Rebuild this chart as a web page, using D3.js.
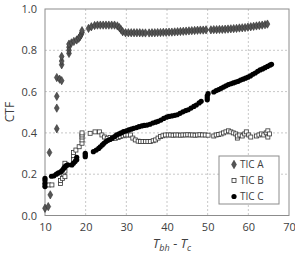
<!DOCTYPE html>
<html>
  <head>
    <script src="https://d3js.org/d3.v7.min.js"></script>
    <style>
      body { margin: 0; background-color: white; }
      text { font-family: 'Open Sans', sans-serif; fill: #404040; }
    </style>
  </head>
  <body>
    <svg id="canvas" width="295" height="253"></svg>
    <script>
      const xTicks = [10, 20, 30, 40, 50, 60, 70]
      const yTicks = [0.0, 0.2, 0.4, 0.6, 0.8, 1.0]

      // TIC A (grey diamonds)
      const ticAx = [10, 10.8, 11.3, 11.1, 12.9, 12.9, 12.9, 12.9, 13.6, 14.1, 14.1, 14.1, 14.1,
        15.9, 15.9, 15.9, 15.9, 16.5, 17.1, 17.8, 18.3, 18.6, 18.9, 19.1, 19.1,
        20.7, 21.4, 22.2, 22.9, 23.6, 24.3, 25.0, 25.7, 26.4, 27.1, 27.8, 28.3, 28.7, 29.1,
        29.8, 30.5, 31.2, 31.9, 32.6, 33.3, 34.0, 34.7,
        35.6, 36.3, 37.0, 37.7, 38.4, 39.1, 39.8, 40.5, 41.2, 41.9, 42.6, 43.3, 44.0, 44.7,
        45.4, 46.1, 46.8, 47.5, 48.2, 48.9, 49.6,
        50.8, 51.5, 52.2, 52.9, 53.6, 54.3, 55.0, 55.7, 56.4, 57.1, 57.8, 58.5, 59.2, 59.9,
        60.6, 61.3, 62.0, 62.7, 63.4, 64.1, 64.7]
      const ticAy = [0.035, 0.043, 0.10, 0.305, 0.42, 0.52, 0.577, 0.668, 0.66, 0.653, 0.73, 0.748, 0.77,
        0.785, 0.80, 0.815, 0.83, 0.836, 0.843, 0.85, 0.858, 0.866, 0.876, 0.886, 0.895,
        0.906, 0.914, 0.92, 0.922, 0.922, 0.922, 0.922, 0.922, 0.922, 0.922, 0.918, 0.91, 0.9, 0.89,
        0.885, 0.885, 0.885, 0.885, 0.885, 0.885, 0.884, 0.884,
        0.884, 0.885, 0.885, 0.886, 0.886, 0.887, 0.887, 0.888, 0.888, 0.889, 0.89, 0.891, 0.892, 0.893,
        0.894, 0.895, 0.896, 0.897, 0.898, 0.898, 0.899,
        0.899, 0.9, 0.9, 0.901, 0.901, 0.902, 0.903, 0.904, 0.905, 0.906, 0.908, 0.909, 0.91, 0.912,
        0.914, 0.916, 0.918, 0.92, 0.922, 0.924, 0.927]

      // TIC B (open squares)
      const ticBx = [10, 10.9, 11.7, 13.8, 13.8, 14.3, 14.5, 14.9, 14.9, 14.9, 14.9,
        17, 17, 17, 17.6, 18.4, 19.1, 19.1, 19.1, 19.1, 19.1,
        21.1, 22.3, 23.4, 24.0, 24.6, 25.3, 26.0, 26.6, 27.3, 28.0, 28.5, 29.2, 29.8, 30.4, 31.0,
        31.6, 32.2, 32.9, 33.5, 34.1, 34.7, 35.3, 35.9, 36.6, 37.2, 37.8, 38.4, 39.0, 39.6,
        40.3, 40.9, 41.5, 42.1, 42.7, 43.3, 43.9, 44.5, 45.1, 45.7, 46.3, 46.9, 47.5, 48.1, 48.7, 49.4, 50.1,
        51.5, 52.1, 52.7, 53.3, 53.9, 54.5, 55.1, 55.7, 56.3, 56.9, 57.3, 57.3, 57.9, 58.5, 59.1, 59.5, 60.1, 60.6,
        62.0, 62.6, 63.2, 63.8, 64.4, 64.8, 64.8, 65.2]
      const ticBy = [0.148, 0.148, 0.148, 0.155, 0.17, 0.18, 0.2, 0.188, 0.215, 0.236, 0.253,
        0.27, 0.29, 0.305, 0.317, 0.333, 0.35, 0.366, 0.38, 0.39, 0.40,
        0.398, 0.405, 0.405, 0.39, 0.38, 0.374, 0.378, 0.374, 0.374, 0.378, 0.382, 0.386, 0.39, 0.39, 0.39,
        0.375, 0.366, 0.36, 0.358, 0.358, 0.358, 0.358, 0.358, 0.362, 0.366, 0.375, 0.382, 0.386, 0.39,
        0.39, 0.39, 0.389, 0.39, 0.39, 0.389, 0.39, 0.39, 0.391, 0.39, 0.39, 0.389, 0.39, 0.391, 0.39, 0.39, 0.389,
        0.385, 0.39, 0.392, 0.395, 0.40, 0.405, 0.41, 0.405, 0.40, 0.395, 0.375, 0.385, 0.39, 0.385, 0.395, 0.405, 0.39, 0.38,
        0.385, 0.39, 0.395, 0.39, 0.40, 0.41, 0.38, 0.395]

      // TIC C (black circles)
      const ticCx = [10, 10, 10, 10, 11.6, 12.2, 12.8, 13.3, 13.9, 14.3, 14.6, 14.9, 15.2, 15.6,
        16.6, 17.0, 17.4, 17.8, 17.8, 19.9, 19.9, 19.9,
        21.9, 22.6, 23.2, 23.6, 24.1, 24.5, 25.0, 25.5, 26.0, 26.5, 27.1, 27.6, 28.2, 28.7, 29.3, 30.0,
        30.6, 31.2, 31.8, 32.5, 33.1, 33.8, 34.4, 35.1, 35.8, 36.5, 37.2, 37.8, 38.5, 39.2, 39.9,
        40.5, 41.2, 41.9, 42.5, 43.2, 43.9, 44.6, 45.2, 45.9, 46.6, 47.2, 47.9, 48.4,
        49.9, 49.9, 49.9, 50.1, 51.5, 52.1, 52.7, 53.3, 53.9, 54.5, 55.1, 55.7, 56.3, 56.9, 57.5,
        58.1, 58.7, 59.3, 59.9, 60.5, 61.1, 61.7, 62.3, 62.9, 63.5, 64.1, 64.7, 65.3, 65.7]
      const ticCy = [0.14, 0.155, 0.17, 0.18, 0.19, 0.192, 0.2, 0.206, 0.212, 0.22, 0.228, 0.236, 0.242, 0.245,
        0.245, 0.253, 0.262, 0.27, 0.282, 0.285, 0.293, 0.301,
        0.309, 0.317, 0.325, 0.333, 0.342, 0.35, 0.358, 0.364, 0.368, 0.374, 0.382, 0.39, 0.395, 0.40, 0.406, 0.41,
        0.415, 0.418, 0.422, 0.426, 0.43, 0.434, 0.436, 0.438, 0.442, 0.448, 0.452, 0.456, 0.462, 0.47, 0.476,
        0.48, 0.482, 0.485, 0.488, 0.495, 0.502, 0.508, 0.512, 0.52, 0.528, 0.535, 0.545, 0.553,
        0.56, 0.57, 0.58, 0.59, 0.598, 0.605, 0.61, 0.616, 0.622, 0.628, 0.634, 0.638, 0.642, 0.646, 0.65,
        0.656, 0.66, 0.665, 0.67, 0.676, 0.684, 0.69, 0.698, 0.705, 0.71, 0.716, 0.722, 0.728, 0.732]

      const seriesNames = ['TIC A', 'TIC B', 'TIC C']

      const margin = { top: 9, right: 6, bottom: 37.5, left: 45 }
      const svg = d3.select('#canvas')
      const width = 295 - margin.left - margin.right
      const height = 253 - margin.top - margin.bottom
      const g = svg.append('g').attr('transform', `translate(${margin.left}, ${margin.top})`)

      const x = d3.scaleLinear().domain([10, 70]).range([0, width])
      const y = d3.scaleLinear().domain([0, 1]).range([height, 0])

      // grid
      g.append('g').selectAll('line').data(xTicks.slice(1, -1)).enter().append('line')
        .attr('x1', d => x(d)).attr('x2', d => x(d)).attr('y1', 0).attr('y2', height)
        .attr('stroke', '#c8c8c8').attr('stroke-dasharray', '2,2')
      g.append('g').selectAll('line').data(yTicks.slice(1, -1)).enter().append('line')
        .attr('y1', d => y(d)).attr('y2', d => y(d)).attr('x1', 0).attr('x2', width)
        .attr('stroke', '#c8c8c8').attr('stroke-dasharray', '2,2')

      // frame
      g.append('rect').attr('x', 0).attr('y', 0).attr('width', width).attr('height', height)
        .attr('fill', 'none').attr('stroke', '#8c8c8c').attr('stroke-width', 1)

      const xAxis = g.append('g').attr('transform', `translate(0, ${height})`)
        .call(d3.axisBottom(x).tickValues(xTicks).tickSize(0).tickPadding(8).tickFormat(d3.format('d')))
      const yAxis = g.append('g')
        .call(d3.axisLeft(y).tickValues(yTicks).tickSize(0).tickPadding(8).tickFormat(d3.format('.1f')))
      ;[xAxis, yAxis].forEach(a => {
        a.select('.domain').remove()
        a.selectAll('text').attr('font-size', 11).attr('fill', '#404040')
          .attr('font-family', "'Open Sans', sans-serif")
      })

      // markers
      const pts = (xs, ys) => xs.map((v, i) => [v, ys[i]])
      const diamond = d3.symbol().type(d3.symbolDiamond).size(20)
      g.append('g').selectAll('path').data(pts(ticAx, ticAy)).enter().append('path')
        .attr('d', diamond)
        .attr('transform', d => `translate(${x(d[0])}, ${y(d[1])})`)
        .attr('fill', '#555').attr('stroke', '#333').attr('stroke-width', 0.6)
      g.append('g').selectAll('rect').data(pts(ticBx, ticBy)).enter().append('rect')
        .attr('x', d => x(d[0]) - 2).attr('y', d => y(d[1]) - 2)
        .attr('width', 4).attr('height', 4)
        .attr('fill', 'white').attr('stroke', '#333').attr('stroke-width', 0.8)
      g.append('g').selectAll('circle').data(pts(ticCx, ticCy)).enter().append('circle')
        .attr('cx', d => x(d[0])).attr('cy', d => y(d[1])).attr('r', 2.6)
        .attr('fill', 'black')

      // axis titles
      svg.append('text').attr('transform', 'translate(14, 112) rotate(-90)')
        .attr('text-anchor', 'middle').attr('font-size', 12).text('CTF')

      const xl = svg.append('text').attr('x', 172).attr('y', 248).attr('text-anchor', 'middle')
        .attr('font-family', "'Liberation Serif', serif").attr('font-style', 'italic')
        .attr('font-size', 13).attr('fill', '#333')
      xl.append('tspan').text('T')
      xl.append('tspan').attr('font-size', 9).attr('dy', 3).text('bh')
      xl.append('tspan').attr('dy', -3).text(' - T')
      xl.append('tspan').attr('font-size', 9).attr('dy', 3).text('c')

      // legend
      const lg = svg.append('g').attr('transform', 'translate(219, 156)')
      lg.append('rect').attr('width', 60).attr('height', 48)
        .attr('fill', 'white').attr('stroke', '#8c8c8c')
      const items = lg.selectAll('g.item').data(seriesNames).enter().append('g')
        .attr('transform', (d, i) => `translate(15, ${8.5 + i * 16})`)
      items.each(function (d, i) {
        const s = d3.select(this)
        if (i === 0) s.append('path').attr('d', diamond).attr('fill', '#555').attr('stroke', '#333').attr('stroke-width', 0.6)
        if (i === 1) s.append('rect').attr('x', -2).attr('y', -2).attr('width', 4).attr('height', 4)
          .attr('fill', 'white').attr('stroke', '#333').attr('stroke-width', 0.8)
        if (i === 2) s.append('circle').attr('r', 2.6).attr('fill', 'black')
      })
      items.append('text').attr('x', 6).attr('dy', '0.35em').attr('font-size', 10).text(d => d)
    </script>
  </body>
</html>
